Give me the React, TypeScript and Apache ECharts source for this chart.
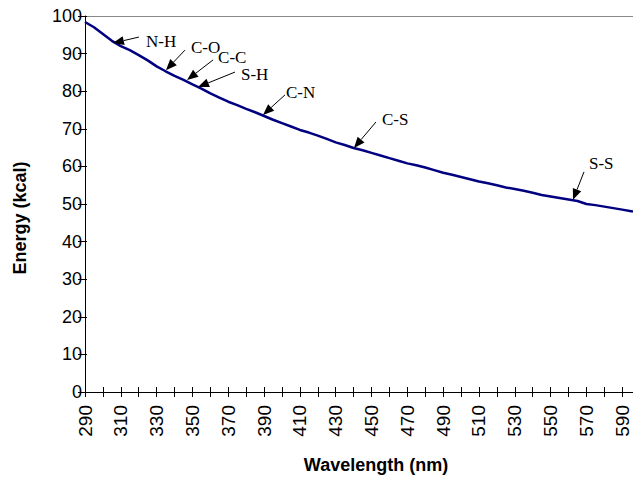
import React, { useEffect, useRef } from "react";
import * as echarts from "echarts";

// Wavelength (nm) and energy (kcal)
const wavelengths = [
  290, 295, 300, 305, 310, 315, 320, 325, 330, 335, 340, 345, 350, 355, 360,
  365, 370, 375, 380, 385, 390, 395, 400, 405, 410, 415, 420, 425, 430, 435,
  440, 445, 450, 455, 460, 465, 470, 475, 480, 485, 490, 495, 500, 505, 510,
  515, 520, 525, 530, 535, 540, 545, 550, 555, 560, 565, 570, 575, 580, 585,
  590, 595, 596,
];
const energies = [
  98.4, 97.0, 95.2, 93.4, 92.0, 90.9, 89.6, 88.2, 86.6, 85.3, 84.1, 83.0, 81.8,
  80.7, 79.4, 78.3, 77.2, 76.3, 75.3, 74.4, 73.4, 72.4, 71.5, 70.6, 69.7, 69.0,
  68.2, 67.3, 66.4, 65.7, 64.9, 64.3, 63.6, 62.9, 62.2, 61.5, 60.8, 60.3, 59.7,
  59.0, 58.3, 57.8, 57.2, 56.6, 56.0, 55.5, 55.0, 54.4, 54.0, 53.5, 53.0, 52.4,
  52.0, 51.6, 51.2, 50.8, 50.0, 49.7, 49.3, 48.9, 48.5, 48.1, 48.0,
];

// Axis ticks and labels
const xTickValues = [
  290, 300, 310, 320, 330, 340, 350, 360, 370, 380, 390, 400, 410, 420, 430,
  440, 450, 460, 470, 480, 490, 500, 510, 520, 530, 540, 550, 560, 570, 580, 590,
];
const xLabelValues = [
  290, 310, 330, 350, 370, 390, 410, 430, 450, 470, 490, 510, 530, 550, 570, 590,
];
const xTitle = "Wavelength (nm)";
const yTitle = "Energy (kcal)";

// Bond annotations: label, wavelength and energy at the arrow tip
const bondLabels = ["N-H", "C-O", "C-C", "S-H", "C-N", "C-S", "S-S"];
const bondWavelengths = [305.6, 335.2, 347.0, 353.1, 389.4, 440.2, 562.5];
const bondEnergies = [92.8, 85.6, 83.0, 81.1, 73.7, 64.9, 51.1];

// Layout offsets (pixels) of arrow tails and labels relative to tips
const tailOffsets = [
  [26, -6], [19, -20], [26, -20], [37, -15], [22, -20], [22, -26], [11, -28],
];
const textOffsets = [
  [33, -2], [25, -23], [31, -22], [43, -13], [23, -22], [28, -28], [16, -36],
];

export default function App() {
  const ref = useRef<HTMLDivElement>(null);

  useEffect(() => {
    if (!ref.current) return;
    const chart = echarts.init(ref.current, null, { renderer: "svg" });
    const font = "Liberation Sans, Arial, sans-serif";
    const option: any = {
      animation: false,
      backgroundColor: "#ffffff",
      grid: { left: 85, right: 0, top: 16, bottom: 87, containLabel: false },
      xAxis: [
        {
          type: "value",
          position: "bottom",
          min: 290,
          max: 596,
          splitLine: { show: false },
          axisLine: { show: true, lineStyle: { color: "#000", width: 1 } },
          axisTick: {
            show: true,
            length: 5,
            customValues: xTickValues,
            lineStyle: { color: "#000" },
          },
          axisLabel: {
            customValues: xLabelValues,
            rotate: 90,
            color: "#000",
            fontFamily: font,
            fontSize: 19,
            margin: 13,
          },
        },
        {
          type: "value",
          position: "bottom",
          min: 290,
          max: 596,
          splitLine: { show: false },
          axisLine: { show: false },
          axisTick: {
            show: true,
            inside: true,
            length: 5,
            customValues: xTickValues,
            lineStyle: { color: "#000" },
          },
          axisLabel: { show: false },
        },
        {
          type: "value",
          position: "top",
          min: 290,
          max: 596,
          splitLine: { show: false },
          axisLine: { show: true, lineStyle: { color: "#888", width: 1 } },
          axisTick: { show: false },
          axisLabel: { show: false },
        },
      ],
      yAxis: [
        {
          type: "value",
          min: 0,
          max: 100,
          interval: 10,
          splitLine: { show: false },
          axisLine: { show: true, lineStyle: { color: "#000", width: 1 } },
          axisTick: { show: true, length: 7, lineStyle: { color: "#000" } },
          axisLabel: {
            color: "#000",
            fontFamily: font,
            fontSize: 18,
            margin: 3,
          },
        },
        {
          type: "value",
          position: "left",
          min: 0,
          max: 100,
          interval: 10,
          splitLine: { show: false },
          axisLine: { show: false },
          axisTick: {
            show: true,
            inside: true,
            length: 2,
            lineStyle: { color: "#000" },
          },
          axisLabel: { show: false },
        },
      ],
      graphic: [
        {
          type: "text",
          x: 376,
          y: 465,
          style: {
            text: xTitle,
            fill: "#000",
            font: "bold 18px 'Liberation Sans', Arial, sans-serif",
            textAlign: "center",
            textVerticalAlign: "middle",
          },
        },
        {
          type: "text",
          x: 20,
          y: 218,
          rotation: Math.PI / 2,
          style: {
            text: yTitle,
            fill: "#000",
            font: "bold 18px 'Liberation Sans', Arial, sans-serif",
            textAlign: "center",
            textVerticalAlign: "middle",
          },
        },
      ],
      series: [
        {
          type: "line",
          xAxisIndex: 0,
          yAxisIndex: 0,
          data: wavelengths.map((w, i) => [w, energies[i]]),
          showSymbol: false,
          symbol: "none",
          lineStyle: { color: "#000080", width: 2.5 },
          smooth: false,
        },
      ],
    };
    chart.setOption(option);

    const graphics: any[] = [...option.graphic];
    bondLabels.forEach((label, i) => {
      const tip = chart.convertToPixel({ seriesIndex: 0 }, [
        bondWavelengths[i],
        bondEnergies[i],
      ]) as number[];
      const tx = tip[0] + tailOffsets[i][0];
      const ty = tip[1] + tailOffsets[i][1];
      const dx = tip[0] - tx;
      const dy = tip[1] - ty;
      const len = Math.sqrt(dx * dx + dy * dy);
      const ux = dx / len;
      const uy = dy / len;
      const headLen = 11;
      const headW = 4.5;
      const bx = tip[0] - ux * headLen;
      const by = tip[1] - uy * headLen;
      graphics.push({
        type: "line",
        shape: { x1: tx, y1: ty, x2: bx, y2: by },
        style: { stroke: "#000", lineWidth: 1 },
        z: 10,
      });
      graphics.push({
        type: "polygon",
        shape: {
          points: [
            [tip[0], tip[1]],
            [bx - uy * headW, by + ux * headW],
            [bx + uy * headW, by - ux * headW],
          ],
        },
        style: { fill: "#000" },
        z: 10,
      });
      graphics.push({
        type: "text",
        x: tip[0] + textOffsets[i][0],
        y: tip[1] + textOffsets[i][1],
        style: {
          text: label,
          fill: "#000",
          font: "17px 'Liberation Serif', 'Times New Roman', serif",
          textAlign: "left",
          textVerticalAlign: "middle",
        },
        z: 10,
      });
    });
    chart.setOption({ graphic: graphics });

    return () => chart.dispose();
  }, []);

  return (
    <div
      ref={ref}
      style={{ position: "fixed", left: 0, top: 0, width: 633, height: 479 }}
    />
  );
}
